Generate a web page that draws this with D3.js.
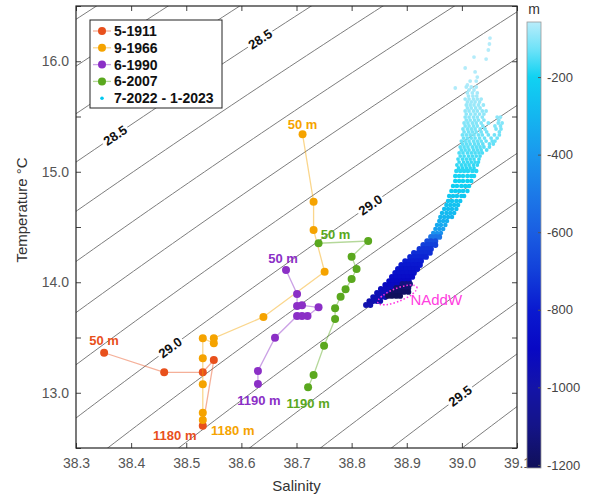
<!DOCTYPE html>
<html>
<head>
<meta charset="utf-8">
<title>T-S diagram</title>
<script src="https://d3js.org/d3.v7.min.js"></script>
<style>
body { margin: 0; background: #fff; }
text { font-family: "Liberation Sans", Arial, sans-serif; }
</style>
</head>
<body>
<div id="chart"></div>
<script>
// historical CTD profiles (salinity, temperature), 50 m -> ~1200 m
var sal1911 = [38.351, 38.460, 38.530, 38.550, 38.530];
var temp1911 = [13.362, 13.185, 13.185, 13.296, 12.702];

var sal1966 = [38.711, 38.731, 38.731, 38.751, 38.640, 38.550, 38.550, 38.530, 38.530, 38.530, 38.530, 38.530];
var temp1966 = [15.339, 14.729, 14.473, 14.095, 13.686, 13.493, 13.448, 13.493, 13.312, 13.076, 12.819, 12.753];

var sal1990 = [38.681, 38.701, 38.701, 38.710, 38.740, 38.720, 38.710, 38.701, 38.661, 38.630, 38.630];
var temp1990 = [14.111, 13.894, 13.785, 13.791, 13.773, 13.695, 13.695, 13.695, 13.498, 13.197, 13.079];

var sal2007 = [38.740, 38.830, 38.800, 38.809, 38.800, 38.789, 38.780, 38.770, 38.770, 38.750, 38.731, 38.721];
var temp2007 = [14.353, 14.373, 14.231, 14.120, 14.029, 13.936, 13.869, 13.764, 13.667, 13.426, 13.161, 13.049];

var seriesNames = ["5-1911", "9-1966", "6-1990", "6-2007", "7-2022 - 1-2023"];
var seriesColors = ["#e8501c", "#f5a300", "#8b2fc6", "#5aa81e", "#00c8f0"];

// glider data 7-2022 .. 1-2023, read row by row: temperature, depth, salinities seen at that row
var gliderRowT = [13.794, 13.830, 13.866, 13.903, 13.939, 13.975, 14.011, 14.048, 14.084, 14.120,
  14.156, 14.192, 14.229, 14.265, 14.301, 14.337, 14.373, 14.410, 14.446, 14.482,
  14.518, 14.554, 14.590, 14.627, 14.663, 14.699, 14.735, 14.781, 14.826, 14.871,
  14.916, 14.962, 15.007, 15.061, 15.115, 15.170, 15.224, 15.278, 15.333, 15.387,
  15.441, 15.495, 15.550, 15.604, 15.658, 15.713, 15.767, 15.821];
var gliderRowDepth = [-980, -970, -960, -950, -930, -910, -890, -870, -850, -830,
  -810, -790, -770, -750, -730, -700, -660, -520, -420, -370,
  -340, -320, -300, -285, -270, -258, -246, -234, -222, -212,
  -202, -192, -182, -172, -162, -152, -142, -132, -124, -116,
  -108, -100, -94, -88, -82, -76, -72, -68];
var gliderRowSal = [
  [38.826, 38.834],
  [38.832, 38.839, 38.846, 38.852],
  [38.839, 38.846, 38.853, 38.861],
  [38.846, 38.853, 38.861, 38.868],
  [38.853, 38.861, 38.868, 38.875, 38.883],
  [38.861, 38.868, 38.875, 38.883, 38.890],
  [38.868, 38.875, 38.883, 38.890, 38.897, 38.904],
  [38.873, 38.881, 38.888, 38.895, 38.903, 38.910],
  [38.879, 38.886, 38.893, 38.901, 38.908, 38.913],
  [38.884, 38.892, 38.899, 38.906, 38.913, 38.919],
  [38.890, 38.897, 38.904, 38.912, 38.919, 38.924],
  [38.897, 38.904, 38.912, 38.919, 38.926],
  [38.906, 38.913, 38.921, 38.928, 38.935],
  [38.913, 38.921, 38.928, 38.935, 38.942],
  [38.923, 38.930, 38.937, 38.944],
  [38.930, 38.937, 38.944, 38.952],
  [38.937, 38.944, 38.952],
  [38.944, 38.952, 38.959],
  [38.948, 38.955, 38.962],
  [38.952, 38.959, 38.966],
  [38.955, 38.962, 38.970],
  [38.959, 38.966, 38.973],
  [38.961, 38.968, 38.975, 38.982],
  [38.964, 38.972, 38.979, 38.986],
  [38.968, 38.975, 38.982, 38.990],
  [38.972, 38.979, 38.986, 38.993],
  [38.975, 38.982, 38.990, 38.997],
  [38.977, 38.984, 38.991, 38.999, 39.004],
  [38.981, 38.988, 38.995, 39.002, 39.010],
  [38.984, 38.991, 38.999, 39.006, 39.013],
  [38.988, 38.995, 39.002, 39.010, 39.017],
  [38.988, 38.995, 39.002, 39.010, 39.017, 39.022],
  [38.990, 38.997, 39.004, 39.011, 39.019, 39.026],
  [38.991, 38.999, 39.006, 39.013, 39.021, 39.028],
  [38.993, 39.001, 39.008, 39.015, 39.022, 39.031],
  [38.995, 39.002, 39.010, 39.017, 39.024, 39.031, 39.037],
  [38.997, 39.004, 39.011, 39.019, 39.026, 39.033, 39.040, 39.050],
  [38.999, 39.006, 39.013, 39.021, 39.028, 39.035, 39.044, 39.055, 39.060],
  [39.001, 39.008, 39.015, 39.022, 39.030, 39.037, 39.048, 39.059, 39.068],
  [39.002, 39.010, 39.017, 39.024, 39.033, 39.042, 39.062, 39.071],
  [39.004, 39.011, 39.019, 39.026, 39.035, 39.048, 39.066, 39.073],
  [39.006, 39.013, 39.021, 39.028, 39.037, 39.064, 39.070],
  [39.006, 39.013, 39.021, 39.028, 39.037, 39.044],
  [39.008, 39.015, 39.022, 39.030, 39.039],
  [39.006, 39.013, 39.021, 39.028, 39.035],
  [39.010, 39.019, 39.028],
  [39.008, 39.017, 39.026],
  [39.015, 39.026]
];
// in-between rows of the upper fan
var fanRowT = [15.034, 15.088, 15.142, 15.197, 15.251, 15.305, 15.360, 15.414, 15.468, 15.522, 15.577, 15.631, 15.685, 15.740];
var fanRowDepth = [-177, -167, -157, -147, -137, -128, -120, -112, -104, -97, -91, -85, -79, -74];
var fanRowSal = [
  [38.994, 39.001, 39.008, 39.015, 39.022],
  [38.995, 39.003, 39.010, 39.017, 39.024, 39.030],
  [38.997, 39.004, 39.012, 39.019, 39.026, 39.033],
  [38.999, 39.006, 39.013, 39.021, 39.028, 39.035, 39.045],
  [39.001, 39.008, 39.015, 39.023, 39.030, 39.038, 39.050, 39.057],
  [39.003, 39.010, 39.017, 39.024, 39.032, 39.041, 39.053, 39.064],
  [39.004, 39.012, 39.019, 39.026, 39.035, 39.045, 39.068],
  [39.006, 39.013, 39.021, 39.028, 39.038, 39.060, 39.070],
  [39.008, 39.015, 39.023, 39.030, 39.040, 39.067],
  [39.008, 39.016, 39.024, 39.032, 39.040],
  [39.010, 39.017, 39.025, 39.033],
  [39.010, 39.017, 39.024, 39.032],
  [39.012, 39.020, 39.027],
  [39.013, 39.022]
];
// deepest water (NAddW blob)
var naddwT = [13.876, 13.912, 13.948, 13.984];
var naddwDepth = [-1200, -1180, -1150, -1120];
var naddwSal = [
  [38.866, 38.873, 38.881, 38.888],
  [38.873, 38.881, 38.888, 38.895, 38.903],
  [38.881, 38.888, 38.895, 38.903],
  [38.892, 38.899, 38.906]
];
// loose shallow points at the top of the cloud
var looseS = [38.988, 39.022, 39.044, 39.051, 39.050, 39.048, 39.006, 39.024, 39.028, 39.010];
var looseT = [15.758, 16.038, 16.020, 16.210, 16.156, 16.102, 15.939, 15.903, 15.857, 15.785];
var looseDepth = [-66, -62, -62, -60, -60, -61, -63, -64, -65, -66];

// colour bar
var depthStops = [-1200, -1100, -1000, -900, -800, -700, -600, -500, -400, -300, -200, -130, -60];
var depthColors = ["#10105c", "#141488", "#1414a8", "#0808c4", "#0a1ad0", "#1240da", "#1a5ee2",
  "#1c7ae8", "#1a98ee", "#14b6f0", "#10d2f2", "#6ce2f8", "#b6ecfa"];
var depthTicks = [-200, -400, -600, -800, -1000, -1200];

// isopycnal labels
var isoLabelLevel = [28.5, 28.5, 29.0, 29.0, 29.5];
var isoLabelSal = [38.634, 38.371, 38.471, 38.834, 38.997];

var salTicks = [38.3, 38.4, 38.5, 38.6, 38.7, 38.8, 38.9, 39.0, 39.1];
var tempTicks = [12.5, 13, 13.5, 14, 14.5, 15, 15.5, 16, 16.5];

var W = 593, H = 495;
var pLeft = 76, pRight = 517, pTop = 6, pBottom = 448;

var x = d3.scaleLinear().domain([38.3, 39.1]).range([pLeft, pRight]);
var y = d3.scaleLinear().domain([12.5, 16.5]).range([pBottom, pTop]);
var depthColor = d3.scaleLinear().domain(depthStops).range(depthColors).clamp(true);

// UNESCO EOS-80, surface pressure
function sigmaTheta(S, T) {
  var T2 = T * T, T3 = T2 * T, T4 = T3 * T, T5 = T4 * T;
  var rw = 999.842594 + 6.793952e-2 * T - 9.095290e-3 * T2 + 1.001685e-4 * T3 - 1.120083e-6 * T4 + 6.536332e-9 * T5;
  var A = 8.24493e-1 - 4.0899e-3 * T + 7.6438e-5 * T2 - 8.2467e-7 * T3 + 5.3875e-9 * T4;
  var B = -5.72466e-3 + 1.0227e-4 * T - 1.6546e-6 * T2;
  return rw + A * S + B * Math.pow(S, 1.5) + 4.8314e-4 * S * S - 1000;
}
function salOnIso(level, T) {
  var lo = 35, hi = 42;
  for (var i = 0; i < 50; i++) {
    var mid = (lo + hi) / 2;
    if (sigmaTheta(mid, T) < level) lo = mid; else hi = mid;
  }
  return (lo + hi) / 2;
}
function tempOnIso(level, S) {
  var lo = 5, hi = 25;
  for (var i = 0; i < 50; i++) {
    var mid = (lo + hi) / 2;
    if (sigmaTheta(S, mid) > level) lo = mid; else hi = mid;
  }
  return (lo + hi) / 2;
}

var svg = d3.select("#chart").append("svg")
  .attr("width", W).attr("height", H);

var defs = svg.append("defs");
defs.append("clipPath").attr("id", "plotclip")
  .append("rect").attr("x", pLeft).attr("y", pTop)
  .attr("width", pRight - pLeft).attr("height", pBottom - pTop);

var plot = svg.append("g").attr("clip-path", "url(#plotclip)");

// isopycnals every 0.1
var levels = d3.range(278, 303).map(function(v) { return v / 10; });
var tSteps = d3.range(12.2, 16.8, 0.05);
var isoLine = d3.line().x(function(d) { return d[0]; }).y(function(d) { return d[1]; });
plot.selectAll("path.iso")
  .data(levels)
  .enter()
  .append("path")
  .attr("class", "iso")
  .attr("d", function(lv) {
    return isoLine(tSteps.map(function(t) { return [x(salOnIso(lv, t)), y(t)]; }));
  })
  .attr("fill", "none")
  .attr("stroke", "#7d7d7d")
  .attr("stroke-width", 1);

// isopycnal labels with a white gap
isoLabelLevel.forEach(function(lv, i) {
  var s = isoLabelSal[i];
  var t = tempOnIso(lv, s);
  var px = x(s), py = y(t);
  var ang = Math.atan2(y(t + 0.1) - y(t - 0.1), x(salOnIso(lv, t + 0.1)) - x(salOnIso(lv, t - 0.1))) * 180 / Math.PI;
  var g = plot.append("g").attr("transform", "translate(" + px + "," + py + ") rotate(" + ang + ")");
  var bg = g.append("rect");
  var txt = g.append("text")
    .attr("text-anchor", "middle")
    .attr("dy", "0.35em")
    .attr("font-size", 13)
    .attr("font-weight", "bold")
    .attr("fill", "#111")
    .text(lv.toFixed(1));
  var bb = txt.node().getBBox();
  bg.attr("x", bb.x - 2).attr("y", bb.y + 1).attr("width", bb.width + 4).attr("height", bb.height - 2)
    .attr("fill", "#fff");
});

// historical profiles
var profiles = [
  { s: sal1911, t: temp1911 },
  { s: sal1966, t: temp1966 },
  { s: sal1990, t: temp1990 },
  { s: sal2007, t: temp2007 }
];
profiles.forEach(function(p, k) {
  var pts = p.s.map(function(v, i) { return [x(v), y(p.t[i])]; });
  plot.append("path")
    .attr("d", isoLine(pts))
    .attr("fill", "none")
    .attr("stroke", seriesColors[k])
    .attr("stroke-opacity", 0.45)
    .attr("stroke-width", 1.3);
  plot.selectAll("circle.p" + k)
    .data(pts)
    .enter()
    .append("circle")
    .attr("class", "p" + k)
    .attr("cx", function(d) { return d[0]; })
    .attr("cy", function(d) { return d[1]; })
    .attr("r", 4)
    .attr("fill", seriesColors[k]);
});

// glider scatter
var glider = [];
function addRows(rowsSal, rowsT, rowsZ) {
  rowsSal.forEach(function(row, i) {
    row.forEach(function(s) { glider.push({ s: s, t: rowsT[i], z: rowsZ[i] }); });
  });
}
addRows(gliderRowSal, gliderRowT, gliderRowDepth);
addRows(fanRowSal, fanRowT, fanRowDepth);
addRows(naddwSal, naddwT, naddwDepth);
looseS.forEach(function(s, i) { glider.push({ s: s, t: looseT[i], z: looseDepth[i] }); });
glider.sort(function(a, b) { return b.z - a.z; });

plot.selectAll("circle.glider")
  .data(glider)
  .enter()
  .append("circle")
  .attr("class", "glider")
  .attr("cx", function(d) { return x(d.s); })
  .attr("cy", function(d) { return y(d.t); })
  .attr("r", function(d) { return d.z < -450 ? 2.9 : (d.z < -180 ? 2.3 : 1.9); })
  .attr("fill", function(d) { return depthColor(d.z); });

// NAddW annotation
var ex = x(38.883), ey = y(13.885);
plot.append("ellipse")
  .attr("cx", 0).attr("cy", 0).attr("rx", 21).attr("ry", 6.5)
  .attr("transform", "translate(" + ex + "," + ey + ") rotate(-22)")
  .attr("fill", "none")
  .attr("stroke", "#ff33e0")
  .attr("stroke-width", 1.5)
  .attr("stroke-dasharray", "1.5,2");
plot.append("text")
  .attr("x", ex + 13).attr("y", ey + 10)
  .attr("font-size", 15)
  .attr("fill", "#ff40e0")
  .text("NAddW");

// depth labels
var depthLabels = [
  { text: "50 m", k: 0, i: 0, dx: 0, dy: -8 },
  { text: "1180 m", k: 0, i: sal1911.length - 1, dx: -28, dy: 14 },
  { text: "50 m", k: 1, i: 0, dx: 0, dy: -5 },
  { text: "1180 m", k: 1, i: sal1966.length - 1, dx: 30, dy: 15 },
  { text: "50 m", k: 2, i: 0, dx: -3, dy: -7 },
  { text: "1190 m", k: 2, i: sal1990.length - 1, dx: 1, dy: 21 },
  { text: "50 m", k: 3, i: 0, dx: 17, dy: -4 },
  { text: "1190 m", k: 3, i: sal2007.length - 1, dx: 0, dy: 21 }
];
svg.selectAll("text.dl")
  .data(depthLabels)
  .enter()
  .append("text")
  .attr("class", "dl")
  .attr("x", function(d) { return x(profiles[d.k].s[d.i]) + d.dx; })
  .attr("y", function(d) { return y(profiles[d.k].t[d.i]) + d.dy; })
  .attr("text-anchor", "middle")
  .attr("font-size", 13)
  .attr("font-weight", "bold")
  .attr("fill", function(d) { return seriesColors[d.k]; })
  .text(function(d) { return d.text; });

// axes, ticks inward on all sides
var fmt = d3.format(".1f");
svg.append("g").attr("transform", "translate(0," + pBottom + ")")
  .call(d3.axisBottom(x).tickValues(salTicks).tickFormat(fmt).tickSizeInner(-5).tickSizeOuter(0).tickPadding(10));
svg.append("g").attr("transform", "translate(0," + pTop + ")")
  .call(d3.axisTop(x).tickValues(salTicks).tickFormat("").tickSizeInner(-5).tickSizeOuter(0));
svg.append("g").attr("transform", "translate(" + pLeft + ",0)")
  .call(d3.axisLeft(y).tickValues(tempTicks)
    .tickFormat(function(d) { return d % 1 === 0 ? fmt(d) : ""; })
    .tickSizeInner(-5).tickSizeOuter(0).tickPadding(7));
svg.append("g").attr("transform", "translate(" + pRight + ",0)")
  .call(d3.axisRight(y).tickValues(tempTicks).tickFormat("").tickSizeInner(-5).tickSizeOuter(0));
svg.selectAll(".domain").remove();
svg.selectAll(".tick line").attr("stroke", "#444");
svg.selectAll(".tick text").attr("font-size", 14).attr("fill", "#555")
  .style("font-family", "'Liberation Sans', Arial, sans-serif");

svg.append("rect")
  .attr("x", pLeft).attr("y", pTop).attr("width", pRight - pLeft).attr("height", pBottom - pTop)
  .attr("fill", "none").attr("stroke", "#222").attr("stroke-width", 1.2);

svg.append("text")
  .attr("x", (pLeft + pRight) / 2).attr("y", 491)
  .attr("text-anchor", "middle")
  .attr("font-size", 15).attr("fill", "#333")
  .text("Salinity");
svg.append("text")
  .attr("transform", "translate(27,210) rotate(-90)")
  .attr("text-anchor", "middle")
  .attr("font-size", 15).attr("fill", "#333")
  .text("Temperature °C");

// legend
var lg = svg.append("g");
lg.append("rect")
  .attr("x", 90).attr("y", 20).attr("width", 132).attr("height", 88)
  .attr("fill", "#fff").attr("stroke", "#222").attr("stroke-width", 1);
seriesNames.forEach(function(name, i) {
  var ly = 31 + i * 16.8;
  if (i < 4) {
    lg.append("line")
      .attr("x1", 93).attr("x2", 111).attr("y1", ly).attr("y2", ly)
      .attr("stroke", seriesColors[i]).attr("stroke-opacity", 0.45).attr("stroke-width", 1.3);
    lg.append("circle").attr("cx", 102).attr("cy", ly).attr("r", 4).attr("fill", seriesColors[i]);
  } else {
    lg.append("circle").attr("cx", 102).attr("cy", ly).attr("r", 1.8).attr("fill", seriesColors[i]);
  }
  lg.append("text")
    .attr("x", 114).attr("y", ly).attr("dy", "0.35em")
    .attr("font-size", 14).attr("font-weight", "bold").attr("fill", "#111")
    .text(name);
});

// colour bar
var cbX = 527, cbW = 14, cbTop = 22, cbBottom = 468;
var cbScale = d3.scaleLinear().domain([-1208, -58]).range([cbBottom, cbTop]);
var grad = defs.append("linearGradient")
  .attr("id", "cbgrad").attr("x1", 0).attr("x2", 0).attr("y1", 1).attr("y2", 0);
grad.selectAll("stop")
  .data(depthStops)
  .enter()
  .append("stop")
  .attr("offset", function(d) { return (cbBottom - cbScale(d)) / (cbBottom - cbTop); })
  .attr("stop-color", function(d, i) { return depthColors[i]; });
svg.append("rect")
  .attr("x", cbX).attr("y", cbTop).attr("width", cbW).attr("height", cbBottom - cbTop)
  .attr("fill", "url(#cbgrad)").attr("stroke", "#999").attr("stroke-width", 0.8);
var cbAxis = svg.append("g").attr("transform", "translate(" + (cbX + cbW) + ",0)")
  .call(d3.axisRight(cbScale).tickValues(depthTicks)
    .tickFormat(function(d) { return String(d); })
    .tickSizeInner(-3).tickSizeOuter(0).tickPadding(6));
cbAxis.select(".domain").remove();
cbAxis.selectAll(".tick line").attr("stroke", "#555");
cbAxis.selectAll(".tick text").attr("font-size", 13).attr("fill", "#444")
  .style("font-family", "'Liberation Sans', Arial, sans-serif");
svg.append("text")
  .attr("x", cbX + cbW / 2).attr("y", 14)
  .attr("text-anchor", "middle")
  .attr("font-size", 14).attr("fill", "#333")
  .text("m");
</script>
</body>
</html>
